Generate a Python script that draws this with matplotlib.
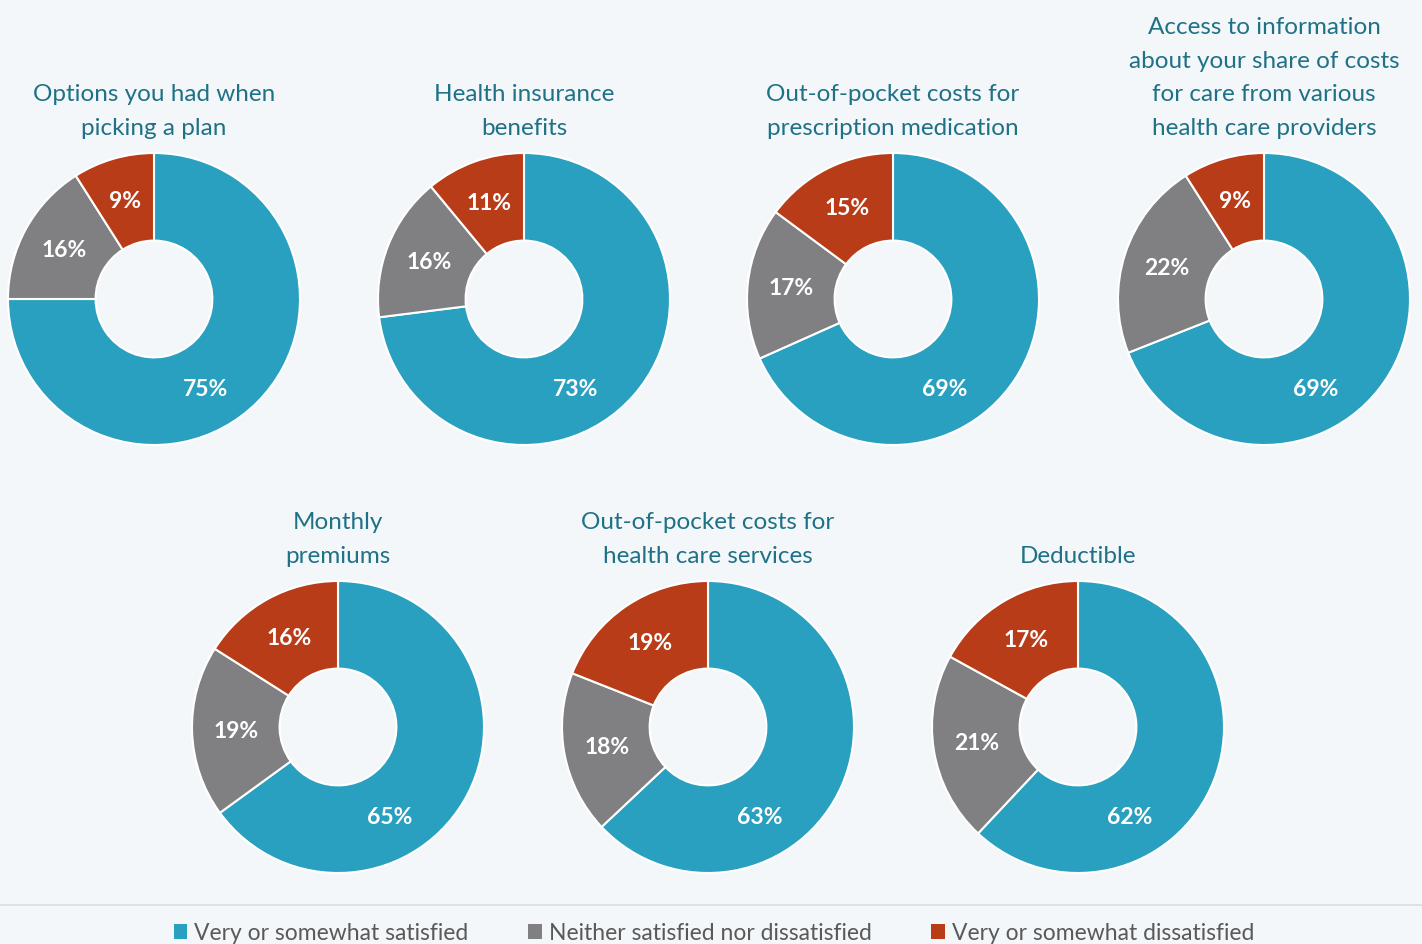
import numpy as np
import matplotlib
matplotlib.use("Agg")
import matplotlib.pyplot as plt
from matplotlib.patches import Patch
from matplotlib.lines import Line2D

plt.rcParams['font.family'] = ['Lato', 'DejaVu Sans']

titles = [
    "Options you had when\npicking a plan",
    "Health insurance\nbenefits",
    "Out-of-pocket costs for\nprescription medication",
    "Access to information\nabout your share of costs\nfor care from various\nhealth care providers",
    "Monthly\npremiums",
    "Out-of-pocket costs for\nhealth care services",
    "Deductible",
]
satisfied = [75, 73, 69, 69, 65, 63, 62]
neither = [16, 16, 17, 22, 19, 18, 21]
dissatisfied = [9, 11, 15, 9, 16, 19, 17]
series_names = ["Very or somewhat satisfied", "Neither satisfied nor dissatisfied",
                "Very or somewhat dissatisfied"]

colors = ["#29a0bf", "#808083", "#b83c17"]
bg = "#f3f7fa"
title_color = "#1f7186"

W, H = 1422, 945
fig = plt.figure(figsize=(W / 100, H / 100), dpi=100, facecolor=bg)

# donut centres in pixels
centers = [(154, 300), (524, 300), (893, 300), (1264, 300),
           (338, 728), (708, 728), (1078, 728)]
R = 146

for i in range(len(titles)):
    cx, cy = centers[i]
    ax = fig.add_axes([(cx - R) / W, (H - cy - R) / H, 2 * R / W, 2 * R / H])
    ax.set_facecolor("none")
    vals = [satisfied[i], neither[i], dissatisfied[i]]
    wedges, texts, autotexts = ax.pie(
        vals, colors=colors, startangle=90, counterclock=False, radius=1,
        autopct=lambda p: "%d%%" % round(p * sum(vals) / 100.0), pctdistance=0.7,
        wedgeprops=dict(width=0.6, edgecolor="white", linewidth=1.5),
        textprops=dict(color="white", fontsize=16.5, fontweight="bold"))
    # the big blue label sits lower in the original
    ang = np.deg2rad(-60)
    autotexts[0].set_position((0.71 * np.cos(ang), 0.71 * np.sin(ang)))
    ax.set_xlim(-1, 1)
    ax.set_ylim(-1, 1)
    ax.set_aspect("equal")
    ax.axis("off")
    ax.text(0, 1.13, titles[i], ha="center", va="baseline", fontsize=17.5,
            color=title_color, linespacing=1.74, clip_on=False)

# separator line
fig.add_artist(Line2D([0, 1], [1 - 906 / H, 1 - 906 / H], color="#d8dde1", linewidth=1.2))

handles = [Patch(facecolor=c, edgecolor="none") for c in colors]
fig.legend(handles, series_names, loc="center", bbox_to_anchor=(0.502, 1 - 934 / H),
           ncol=3, frameon=False, fontsize=16.5, handlelength=0.6, handleheight=0.6,
           handletextpad=0.3, columnspacing=2.6, labelcolor="#595959")

fig.savefig("out.png", dpi=100, facecolor=bg)
